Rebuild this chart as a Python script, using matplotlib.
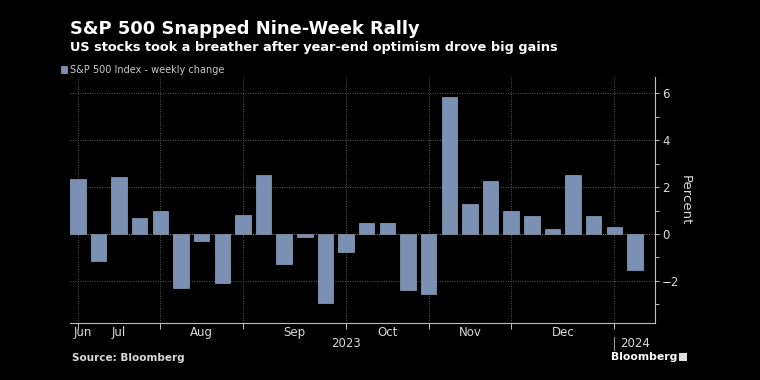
import numpy as np
import matplotlib
matplotlib.use("Agg")
import matplotlib.pyplot as plt
from matplotlib.patches import Rectangle

# weekly change of S&P 500, %, Jun 2023 - Jan 2024
changes = [2.35, -1.15, 2.45, 0.7, 1.0, -2.3, -0.3, -2.1, 0.8, 2.5,
           -1.3, -0.15, -2.95, -0.75, 0.45, 0.45, -2.4, -2.55, 5.85, 1.3,
           2.25, 1.0, 0.75, 0.2, 2.5, 0.75, 0.3, -1.55]
month_labels = ["Jun", "Jul", "Aug", "Sep", "Oct", "Nov", "Dec"]
month_label_pos = [0.25, 2.0, 6.0, 10.5, 15.0, 19.0, 23.5]
month_bounds = [0, 4, 8, 13, 17, 21, 26]
year_labels = ["2023", "2024"]
year_pos = [13.0, 27.0]
y_ticks = [-2, 0, 2, 4, 6]

bar_color = "#7a91b4"
txt = "#d9d9d9"
grid_c = "#5a5a5a"

fig = plt.figure(figsize=(7.6, 3.8), dpi=100, facecolor="black")
ax = fig.add_axes([70/760, 1-323/380, 585/760, 246/380], facecolor="black")

x = np.arange(len(changes))
ax.bar(x, changes, width=0.75, color=bar_color, edgecolor="#8ea3c3", linewidth=0.5, zorder=3,
       label="S&P 500 Index - weekly change")
ax.set_xlim(-0.38, 27.97)
ax.set_ylim(-3.8, 6.7)

for s in ["left", "top"]:
    ax.spines[s].set_visible(False)
for s in ["right", "bottom"]:
    ax.spines[s].set_color("#bfbfbf")
    ax.spines[s].set_linewidth(0.8)

ax.yaxis.tick_right()
ax.yaxis.set_label_position("right")
ax.set_yticks(y_ticks)
ax.set_yticks([-3, -1, 1, 3, 5], minor=True)
ax.tick_params(axis="y", which="both", colors="#bfbfbf", labelcolor=txt, labelsize=8.5, length=3, width=0.7, pad=2)
ax.set_ylabel("Percent", color=txt, fontsize=9.5, rotation=270, va="center")
ax.yaxis.set_label_coords(1.052, 0.5)

ax.set_xticks(month_bounds)
ax.set_xticklabels([])
ax.set_xticks(month_label_pos, minor=True)
ax.set_xticklabels(month_labels, minor=True)
ax.tick_params(axis="x", which="major", colors="#bfbfbf", length=4, width=0.7)
ax.tick_params(axis="x", which="minor", length=0, labelcolor=txt, labelsize=8.5, pad=2)

for b in month_bounds:
    ax.axvline(b, color=grid_c, linestyle=(0, (1, 1.5)), linewidth=0.7, zorder=1)
for t in [-2, 2, 4, 6]:
    ax.axhline(t, color=grid_c, linestyle=(0, (1, 1.5)), linewidth=0.7, zorder=1)
ax.axhline(0, color="#8a8a8a", linestyle=(0, (1, 1.5)), linewidth=0.7, zorder=4)

for lbl, p in zip(year_labels, year_pos):
    ax.text(p, -0.085, lbl, transform=ax.get_xaxis_transform(), ha="center", va="center",
            color=txt, fontsize=8.5)
ax.plot([26, 26], [-0.057, -0.11], transform=ax.get_xaxis_transform(), color="#9a9a9a",
        linewidth=0.7, clip_on=False)

fig.text(70/760, 1-29/380, "S&P 500 Snapped Nine-Week Rally", color="white", fontsize=12.9,
         fontweight="bold", va="center", ha="left")
fig.text(70/760, 1-47/380, "US stocks took a breather after year-end optimism drove big gains",
         color="white", fontsize=9.3, fontweight="bold", va="center", ha="left")
leg = ax.legend(loc="lower left", bbox_to_anchor=(70/760 - 0.012, 1-75/380), bbox_transform=fig.transFigure,
                frameon=False, fontsize=7, handlelength=0.6, handleheight=0.8, handletextpad=0.3,
                borderaxespad=0, borderpad=0)
for t in leg.get_texts():
    t.set_color("#c8c8c8")
fig.text(72/760, 1-358/380, "Source: Bloomberg", color="#d9d9d9", fontsize=7.5, fontweight="bold",
         va="center", ha="left")
fig.text(611/760, 1-357/380, "Bloomberg", color="white", fontsize=7.8, fontweight="bold",
         va="center", ha="left")
# small logo box
fig.patches.append(Rectangle((679/760, 1-361/380), 8/760, 8/380, transform=fig.transFigure,
                             facecolor="#e0e0e0", edgecolor="none"))

fig.savefig("out.png", dpi=100, facecolor="black")
